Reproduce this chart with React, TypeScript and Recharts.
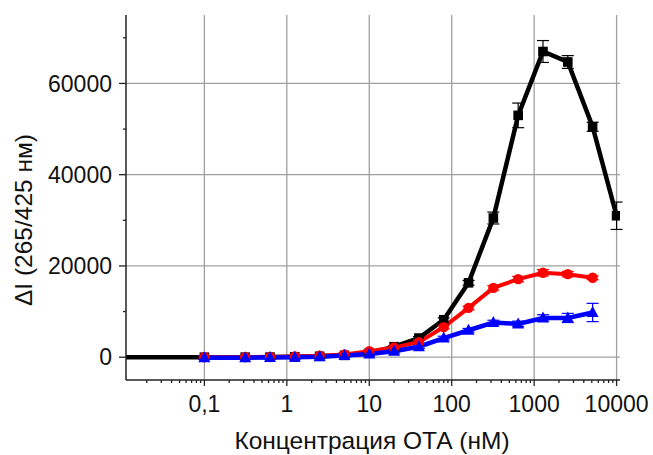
import React from "react";
import {
  LineChart,
  Line,
  XAxis,
  YAxis,
  CartesianGrid,
  ErrorBar,
} from "recharts";

// concentrations (nM), doubling series after 0.1
const conc = [0.1, 0.3125, 0.625, 1.25, 2.5, 5, 10, 20, 40, 80, 160, 320, 640, 1280, 2560, 5120];
// black series starts at the left edge (blank) and runs to 10000
const blackConc = [0.0112, ...conc, 10000];

const blackValues = [0, 0, 0, 20, 80, 200, 400, 900, 2300, 4200, 8200, 16300, 30500, 53000, 67000, 64700, 50500, 31000];
const blackErr = [0, 0, 0, 0, 0, 0, 0, 100, 200, 300, 400, 500, 1300, 2700, 2400, 1400, 1000, 3000];

const redValues = [0, 0, 50, 150, 300, 600, 1300, 2150, 3300, 6600, 10800, 15200, 17100, 18500, 18200, 17400];
const redErr = [300, 300, 300, 300, 300, 300, 300, 300, 400, 400, 400, 500, 600, 700, 600, 400];

const blueValues = [-100, -100, -50, 0, 100, 350, 700, 1300, 2300, 4200, 5900, 7600, 7300, 8600, 8600, 9800];
const blueErr = [400, 400, 400, 400, 400, 400, 400, 400, 400, 400, 400, 500, 600, 700, 1000, 2000];

const xMajor = [0.1, 1, 10, 100, 1000, 10000];
const xMinor = [0.01, 0.1, 1, 10, 100, 1000].flatMap((d) => [2, 3, 4, 5, 6, 7, 8, 9].map((m) => +(m * d).toPrecision(3)));
const yMajor = [0, 20000, 40000, 60000];
const yMinor = [10000, 30000, 50000, 70000];

const blackData = blackConc.map((c, i) => ({ c, v: blackValues[i], e: blackErr[i] }));
const redData = conc.map((c, i) => ({ c, v: redValues[i], e: redErr[i] }));
const blueData = conc.map((c, i) => ({ c, v: blueValues[i], e: blueErr[i] }));

const FONT = "'Liberation Sans', Arial, sans-serif";

const XTick = (props: any) => {
  const { x, y, payload } = props;
  const major = xMajor.includes(payload.value);
  const label = String(payload.value).replace(".", ",");
  return (
    <g>
      <line x1={x} x2={x} y1={y} y2={y + (major ? 6 : 3)} stroke="#222" strokeWidth={1.3} />
      {major && (
        <text x={x} y={y + 32} textAnchor="middle" fontSize={23} fontFamily={FONT} fill="#111">
          {label}
        </text>
      )}
    </g>
  );
};

const YTick = (props: any) => {
  const { x, y, payload } = props;
  const major = yMajor.includes(payload.value);
  return (
    <g>
      <line x1={x} x2={x - (major ? 7 : 3)} y1={y} y2={y} stroke="#222" strokeWidth={1.3} />
      {major && (
        <text x={x - 14} y={y} dy="0.36em" textAnchor="end" fontSize={23} fontFamily={FONT} fill="#111">
          {payload.value}
        </text>
      )}
    </g>
  );
};

const SquareDot = (props: any) => {
  const { cx, cy, index } = props;
  if (index === 0 || cx == null) return <g key={index} />;
  return <rect key={index} x={cx - 4.8} y={cy - 4.8} width={9.6} height={9.6} fill="#000" />;
};

const CircleDot = (props: any) => {
  const { cx, cy, index } = props;
  return <circle key={index} cx={cx} cy={cy} r={5.2} fill="#ff0000" />;
};

const TriangleDot = (props: any) => {
  const { cx, cy, index } = props;
  return (
    <polygon
      key={index}
      points={`${cx},${cy - 6.5} ${cx - 6},${cy + 4.5} ${cx + 6},${cy + 4.5}`}
      fill="#0000ff"
    />
  );
};

export default function App() {
  return (
    <div style={{ position: "absolute", left: 0, top: 0, width: 653, height: 455, background: "#fff" }}>
      <LineChart width={653} height={455} margin={{ top: 15, right: 33, bottom: 0, left: 0 }}>
        <CartesianGrid
          stroke="#a0a0a0"
          strokeWidth={1.3}
          verticalValues={xMajor}
          horizontalValues={yMajor}
        />
        <XAxis
          dataKey="c"
          type="number"
          scale="log"
          domain={[0.0112, 11000]}
          allowDataOverflow
          ticks={[...xMinor, ...xMajor].sort((a, b) => a - b)}
          interval={0}
          tick={<XTick />}
          tickLine={false}
          tickSize={0}
          tickMargin={0}
          height={75}
          axisLine={{ stroke: "#222", strokeWidth: 1.5 }}
          label={{
            content: () => (
              <text x={372} y={449} textAnchor="middle" fontSize={24.5} fontFamily={FONT} fill="#111">
                Концентрация ОТА (нМ)
              </text>
            ),
          }}
        />
        <YAxis
          type="number"
          domain={[-5000, 75000]}
          allowDataOverflow
          ticks={[...yMajor, ...yMinor].sort((a, b) => a - b)}
          interval={0}
          tick={<YTick />}
          tickLine={false}
          tickSize={0}
          tickMargin={0}
          width={126}
          axisLine={{ stroke: "#222", strokeWidth: 1.5 }}
          label={{
            content: () => (
              <text
                x={23}
                y={220}
                transform="rotate(-90 23 220)"
                textAnchor="middle"
                dominantBaseline="central"
                fontSize={24.5}
                fontFamily={FONT}
                fill="#111"
              >
                ΔI (265/425 нм)
              </text>
            ),
          }}
        />
        <Line
          data={blackData}
          dataKey="v"
          stroke="#000"
          strokeWidth={4.5}
          dot={<SquareDot />}
          isAnimationActive={false}
        >
          <ErrorBar dataKey="e" direction="y" width={6} stroke="#000" strokeWidth={1.2} />
        </Line>
        <Line
          data={redData}
          dataKey="v"
          stroke="#ff0000"
          strokeWidth={4}
          dot={<CircleDot />}
          isAnimationActive={false}
        >
          <ErrorBar dataKey="e" direction="y" width={6} stroke="#ff0000" strokeWidth={1.2} />
        </Line>
        <Line
          data={blueData}
          dataKey="v"
          stroke="#0000ff"
          strokeWidth={4.5}
          dot={<TriangleDot />}
          isAnimationActive={false}
        >
          <ErrorBar dataKey="e" direction="y" width={6} stroke="#0000ff" strokeWidth={1.2} />
        </Line>
      </LineChart>
    </div>
  );
}
